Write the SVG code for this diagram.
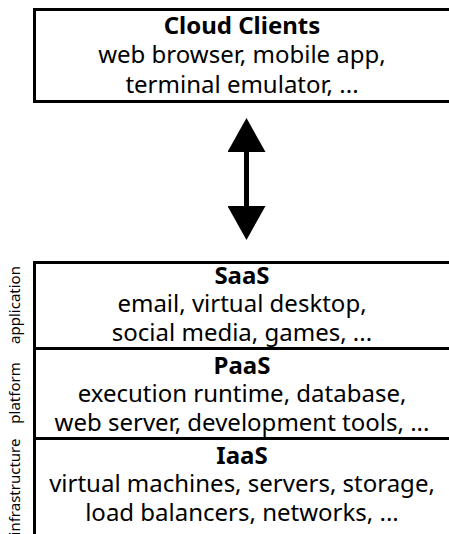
<svg xmlns="http://www.w3.org/2000/svg" width="449" height="534" viewBox="0 0 449 534">
<style>
.box{fill:#fff;stroke:#000;stroke-width:3}
.t{font-family:"Noto Sans","Open Sans","DejaVu Sans",sans-serif;font-size:24px;text-anchor:middle;fill:#000}
.b{font-weight:bold}
.side{font-family:"Noto Sans","Open Sans","DejaVu Sans",sans-serif;font-size:15px;text-anchor:middle;fill:#000}
</style>
<defs>
<marker id="head" viewBox="0 0 34 38" refX="0" refY="19" markerWidth="34" markerHeight="38" markerUnits="userSpaceOnUse" orient="auto-start-reverse">
<path d="M0,0 L34,19 L0,38 z" fill="#000"/>
</marker>
</defs>
<g id="cloud-clients">
<rect class="box" x="34.5" y="9.5" width="420" height="92"/>
<text class="t b" x="242" y="34">Cloud Clients</text>
<text class="t" x="242" y="63">web browser, mobile app,</text>
<text class="t" x="242" y="92.5">terminal emulator, ...</text>
</g>
<g id="connectors">
<line x1="246.5" y1="152" x2="246.5" y2="206" stroke="#000" stroke-width="5" marker-start="url(#head)" marker-end="url(#head)"/>
</g>
<g id="saas">
<rect class="box" x="34.5" y="262.5" width="420" height="86"/>
<text class="t b" x="242" y="284">SaaS</text>
<text class="t" x="242" y="312">email, virtual desktop,</text>
<text class="t" x="242" y="341">social media, games, ...</text>
<text class="side" transform="translate(20,305) rotate(-90)">application</text>
</g>
<g id="paas">
<rect class="box" x="34.5" y="348.5" width="420" height="90"/>
<text class="t b" x="242" y="374">PaaS</text>
<text class="t" x="242" y="402">execution runtime, database,</text>
<text class="t" x="242" y="431">web server, development tools, ...</text>
<text class="side" transform="translate(20,393) rotate(-90)">platform</text>
</g>
<g id="iaas">
<rect class="box" x="34.5" y="438.5" width="420" height="100"/>
<text class="t b" x="242" y="464">IaaS</text>
<text class="t" x="242" y="492">virtual machines, servers, storage,</text>
<text class="t" x="242" y="521">load balancers, networks, ...</text>
<text class="side" transform="translate(20,487) rotate(-90)">infrastructure</text>
</g>
</svg>
